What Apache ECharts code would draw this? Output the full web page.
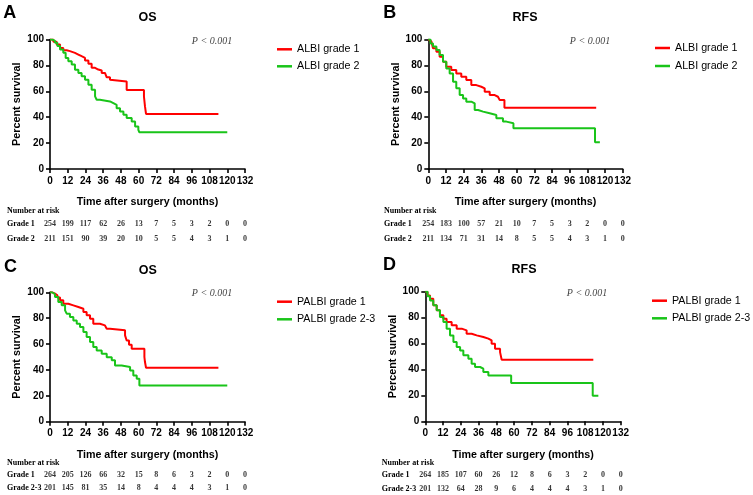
<!DOCTYPE html>
<html>
<head>
<meta charset="utf-8">
<script src="https://cdn.jsdelivr.net/npm/echarts@6/dist/echarts.min.js"></script>
<style>html,body{margin:0;padding:0;background:#fff;}#c{width:753px;height:495px;}</style>
</head>
<body>
<div id="c"></div>
<script>
// ---------- data ----------
const riskTimes = [0, 12, 24, 36, 48, 60, 72, 84, 96, 108, 120, 132];

// Kaplan-Meier step points [month, percent survival]
const kmA_g1 = [[0,100],[2.3,98.2],[4.5,96.1],[6.8,93.5],[9,91.7],[11.3,91],[13.5,89.7],[16.9,88.4],[19.2,87.1],[21.4,85.8],[23.7,83.7],[26,81.2],[28.2,78.1],[30.5,76.8],[32.7,76],[35,74.2],[37.2,72.9],[38.4,70.8],[40.6,69],[41.3,67.5],[51.9,61],[63.6,56],[64.3,48.3],[65,42.5],[114,42.5]];
const kmA_g2 = [[0,100],[1.5,99],[3.4,97.4],[5,95],[6.8,92.2],[9,89.7],[10.6,85.8],[12.4,83.2],[14.7,80.6],[16.9,76.7],[19.2,74.1],[21.4,71.6],[23.7,69],[26,65.1],[28.2,61.2],[30.5,56.1],[31.6,53.5],[33.8,52.2],[40.6,50.9],[42.9,49.6],[45.1,47],[47.4,44.4],[49.7,41.9],[51.9,39.3],[55.3,36.7],[57.6,32.8],[59.8,30.2],[60.5,28.4],[120,28.4]];
const kmB_g1 = [[0,100],[1,98.5],[2.1,97],[3.2,93.2],[5.5,90.6],[7.7,86.7],[10,82.9],[12.2,79],[15.6,76.4],[19,73.8],[22.4,71.3],[25.8,68.7],[29.2,64.8],[32.6,63.5],[36,62.3],[38.3,59.7],[41.7,57.1],[45.1,55.8],[47.3,54.5],[48.5,53.2],[51.7,47.3],[114,47.3]];
const kmB_g2 = [[0,100],[1.5,97],[3.2,94.5],[5.5,91.9],[7.7,88],[10,82.9],[12.2,77.7],[14.5,73.8],[16.8,67.4],[19,62.3],[21.3,57.1],[23.6,54.5],[25.8,52],[29.2,50.7],[31.5,45.5],[33.8,44.3],[37.2,43],[41.7,41.7],[46.2,39.1],[50.7,36.6],[53,35.3],[57.8,31.4],[113.2,20.7],[116.5,20.7]];
const kmC_g1 = [[0,100],[1.5,99],[3.4,97.7],[5,96],[6.8,93.8],[9,91.2],[12.4,89.9],[15.8,88.6],[19.2,87.3],[22.6,84.7],[24.8,82.2],[27.1,79.6],[29.3,75.7],[33.8,74.4],[37.2,73.2],[38.4,71.9],[40.6,70.6],[50.8,66.7],[51.9,62.8],[53.5,59.5],[55.3,56.4],[63.9,50],[64.3,46.1],[65,41.7],[114,41.7]];
const kmC_g2 = [[0,100],[1.5,98.5],[3.4,96.4],[5.6,92.5],[7.9,89.9],[10.2,86],[11.3,83.5],[13.5,80.9],[15.8,78.3],[18.1,75.7],[20.3,73.2],[22.6,69.3],[24.8,65.4],[27.1,61.5],[29.3,57.7],[31.6,55.1],[35,52.5],[38.4,49.9],[41.8,47.4],[44,43.5],[48.5,42.2],[54.2,39.6],[56.4,35.7],[58.7,33.2],[60.5,28],[120,28]];
const kmD_g1 = [[0,100],[1.5,97],[3.2,94.6],[5.4,89.5],[7.7,85.6],[9.9,81.8],[12.2,79.2],[14.4,76.6],[17.8,74.1],[21.2,71.5],[24.6,70.2],[27.9,67.6],[31.3,66.3],[34.7,65],[39.2,63.8],[42.6,62.5],[44.8,59.9],[47.1,56],[50.5,53.4],[51.6,47.5],[113.5,47.5]];
const kmD_g2 = [[0,100],[1.5,96.5],[3.2,93.3],[5.4,89.5],[7.7,85.6],[9.9,80.5],[12.2,76.6],[14.4,71.5],[16.7,66.3],[19,61.2],[21.2,57.3],[23.5,54.7],[25.7,50.9],[29.1,48.3],[31.3,44.4],[33.6,41.9],[37,40.6],[39.2,38],[42.6,35.4],[58,29.6],[113.1,19.8],[116.9,19.8]];

// Number at risk
const riskA_g1 = [254,199,117,62,26,13,7,5,3,2,0,0];
const riskA_g2 = [211,151,90,39,20,10,5,5,4,3,1,0];
const riskB_g1 = [254,183,100,57,21,10,7,5,3,2,0,0];
const riskB_g2 = [211,134,71,31,14,8,5,5,4,3,1,0];
const riskC_g1 = [264,205,126,66,32,15,8,6,3,2,0,0];
const riskC_g2 = [201,145,81,35,14,8,4,4,4,3,1,0];
const riskD_g1 = [264,185,107,60,26,12,8,6,3,2,0,0];
const riskD_g2 = [201,132,64,28,9,6,4,4,4,3,1,0];

const panelLetters = ['A','B','C','D'];
const panelTitles = ['OS','RFS','OS','RFS'];
const seriesNames = [['ALBI grade 1','ALBI grade 2'],['ALBI grade 1','ALBI grade 2'],['PALBI grade 1','PALBI grade 2-3'],['PALBI grade 1','PALBI grade 2-3']];
const rowNames = [['Grade 1','Grade 2'],['Grade 1','Grade 2'],['Grade 1','Grade 2-3'],['Grade 1','Grade 2-3']];
const pText = 'P < 0.001';
const xName = 'Time after surgery (months)';
const yName = 'Percent survival';

// ---------- layout ----------
const RED = '#ff0000', GREEN = '#19c419';
const SANS = '"Liberation Sans", Arial, sans-serif';
const SERIF = '"Liberation Serif", "Times New Roman", serif';
const plotGrids = [
  {left:50, top:39.5, width:195, height:129.5},
  {left:428.3, top:39.5, width:194.4, height:129.5},
  {left:50, top:292.3, width:195, height:129.4},
  {left:425.3, top:291.7, width:195.4, height:129.6}
];
const tableGrids = [
  {top:216, height:30.6, labelLeft:7, nrY:211},
  {top:216.5, height:30, labelLeft:384, nrY:211},
  {top:468.4, height:27.4, labelLeft:7, nrY:463},
  {top:468.9, height:27.2, labelLeft:381.7, nrY:463.3}
];
const legendPos = [
  {left:277, top:42.3, gap:3},
  {left:655, top:41, gap:4},
  {left:277, top:294.7, gap:3.6},
  {left:652, top:293.7, gap:3.6}
];
const letterPos = [[3.3,13.3],[383.3,13.3],[4,267],[383,265.5]];
const titlePos = [[147.5,18],[525,18],[147.7,270.7],[524,270]];
const pPos = [[212,41.7],[590,41],[212,293],[587,293]];

const km = [[kmA_g1,kmA_g2],[kmB_g1,kmB_g2],[kmC_g1,kmC_g2],[kmD_g1,kmD_g2]];
const risk = [[riskA_g1,riskA_g2],[riskB_g1,riskB_g2],[riskC_g1,riskC_g2],[riskD_g1,riskD_g2]];

const grid = [], xAxis = [], yAxis = [], series = [], legend = [], graphic = [];

for (let p = 0; p < 4; p++) {
  const g = plotGrids[p];
  grid.push({left:g.left, top:g.top, width:g.width, height:g.height, containLabel:false});
  const tg = tableGrids[p];
  grid.push({left:g.left, top:tg.top, width:g.width, height:tg.height, containLabel:false});
  const gi = p*2, ti = p*2+1;

  xAxis.push({
    gridIndex:gi, type:'value', min:0, max:132, interval:12,
    axisLine:{show:true, lineStyle:{color:'#000', width:1.6}},
    axisTick:{show:true, length:4, lineStyle:{color:'#000', width:1.6}},
    axisLabel:{color:'#000', fontFamily:SANS, fontWeight:'bold', fontSize:10, margin:7},
    splitLine:{show:false},
    name:xName, nameLocation:'middle', nameGap:28,
    nameTextStyle:{color:'#000', fontFamily:SANS, fontWeight:'bold', fontSize:10.7}
  });
  yAxis.push({
    gridIndex:gi, type:'value', min:0, max:100, interval:20,
    axisLine:{show:true, lineStyle:{color:'#000', width:1.6}},
    axisTick:{show:true, length:4, lineStyle:{color:'#000', width:1.6}},
    axisLabel:{color:'#000', fontFamily:SANS, fontWeight:'bold', fontSize:10, margin:6},
    splitLine:{show:false},
    name:yName, nameLocation:'middle', nameGap:27,
    nameTextStyle:{color:'#000', fontFamily:SANS, fontWeight:'bold', fontSize:10.8}
  });
  // table axes
  xAxis.push({gridIndex:ti, type:'value', min:0, max:132, show:false});
  yAxis.push({
    gridIndex:ti, type:'category', data:rowNames[p], inverse:true,
    axisLine:{show:false}, axisTick:{show:false}, splitLine:{show:false},
    axisLabel:{show:true, align:'left', margin:g.left - tg.labelLeft, color:'#000',
      fontFamily:SERIF, fontWeight:'bold', fontSize:8}
  });

  const colors = [RED, GREEN];
  for (let s = 0; s < 2; s++) {
    series.push({
      type:'line', name:seriesNames[p][s], xAxisIndex:gi, yAxisIndex:gi,
      data:km[p][s], step:'end', showSymbol:false, symbol:'none',
      lineStyle:{color:colors[s], width:2}, itemStyle:{color:colors[s]},
      animation:false, z:3
    });
    series.push({
      type:'scatter', name:'risk'+p+s, xAxisIndex:ti, yAxisIndex:ti,
      symbolSize:0,
      data:riskTimes.map((t,i)=>[t, rowNames[p][s], risk[p][s][i]]),
      label:{show:true, position:'inside', formatter:(d)=>String(d.value[2]),
        color:'#000', fontFamily:SERIF, fontWeight:'bold', fontSize:8},
      animation:false, silent:true
    });
  }

  const lp = legendPos[p];
  legend.push({
    data:seriesNames[p], orient:'vertical', left:lp.left, top:lp.top, itemGap:lp.gap,
    icon:'rect', itemWidth:15, itemHeight:2.5, selectedMode:false, padding:0,
    textStyle:{color:'#000', fontFamily:SANS, fontSize:10.7, lineHeight:14}
  });

  graphic.push({type:'text', left:letterPos[p][0], top:letterPos[p][1]-9,
    style:{text:panelLetters[p], font:'bold 18px ' + SANS, fill:'#000'}});
  graphic.push({type:'text', x:titlePos[p][0], y:titlePos[p][1],
    style:{text:panelTitles[p], font:'bold 12.5px ' + SANS, fill:'#000', align:'center', verticalAlign:'middle'}});
  graphic.push({type:'text', x:pPos[p][0], y:pPos[p][1],
    style:{text:pText, font:'italic 10px ' + SERIF, fill:'#444', align:'center', verticalAlign:'middle'}});
  graphic.push({type:'text', x:tg.labelLeft, y:tg.nrY,
    style:{text:'Number at risk', font:'bold 8px ' + SERIF, fill:'#000', align:'left', verticalAlign:'middle'}});
}

const chart = echarts.init(document.getElementById('c'), null, {renderer:'canvas'});
chart.setOption({
  backgroundColor:'#fff', animation:false,
  grid, xAxis, yAxis, series, legend, graphic
});
</script>
</body>
</html>
